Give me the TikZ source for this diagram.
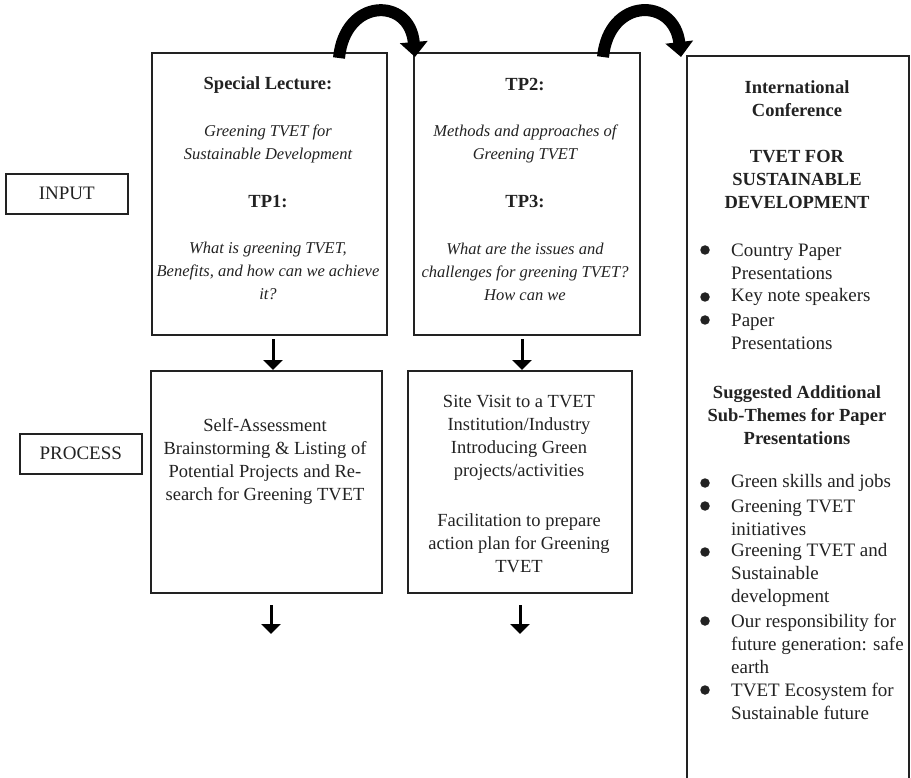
\documentclass[tikz,border=0pt]{standalone}
\usepackage{fontspec}
\setmainfont{Liberation Serif}
\usetikzlibrary{arrows.meta,calc}
\definecolor{ink}{HTML}{222222}
\begin{document}
\begin{tikzpicture}[x=1pt,y=-1pt,
  box/.style={draw=ink,line width=1.6pt,rectangle,inner sep=0pt,anchor=north west},
  rm/.style={font=\fontsize{18.5}{23}\selectfont,text=ink,align=center,inner sep=0pt},
  rmr/.style={font=\fontsize{19}{23}\selectfont,text=ink,align=left,inner sep=0pt,anchor=west},
  itx/.style={font=\fontsize{16.5}{23}\selectfont\itshape,text=ink,align=center,inner sep=0pt},
  bfx/.style={font=\fontsize{18.5}{23}\selectfont\bfseries,text=ink,align=center,inner sep=0pt},
  downarr/.style={draw=black,line width=3pt,-{Triangle[width=19pt,length=10pt]}},
  bendarr/.style={draw=black,line width=12pt,-{Triangle[width=27pt,length=15pt]}},
  bul/.style={circle,fill=ink,inner sep=0pt,minimum size=9.5pt},
]
\useasboundingbox (0,0) rectangle (911,778);
\clip (0,0) rectangle (911,778);

% boxes
\node[box,minimum width=235pt,minimum height=282pt] (tp1) at (151,52) {};
\node[box,minimum width=226pt,minimum height=282pt] (tp2) at (413,52) {};
\node[box,minimum width=231pt,minimum height=222pt] (p1) at (150,370) {};
\node[box,minimum width=224pt,minimum height=222pt] (p2) at (407,370) {};
\node[box,minimum width=222pt,minimum height=760pt] (conf) at (686,55) {};
\node[box,minimum width=122pt,minimum height=40pt,font=\fontsize{19}{23}\selectfont,text=ink] (input) at (5,173) {INPUT};
\node[box,minimum width=122pt,minimum height=40pt,font=\fontsize{19}{23}\selectfont,text=ink] (process) at (19,433) {PROCESS};

% TP1 box text
\node[bfx] (t1a) at (268,85) {Special Lecture:};
\node[itx] (t1b) at (268,143.5) {Greening TVET for\\Sustainable Development};
\node[bfx] (t1c) at (268,202) {TP1:};
\node[itx] (t1d) at (268,271) {What is greening TVET,\\Benefits, and how can we achieve\\it?};

% TP2 box text
\node[bfx] (t2a) at (525,85) {TP2:};
\node[itx] (t2b) at (525,143.5) {Methods and approaches of\\Greening TVET};
\node[bfx] (t2c) at (525,202) {TP3:};
\node[itx] (t2d) at (525,272) {What are the issues and\\challenges for greening TVET?\\How can we};

% process texts
\node[rm] (p1t) at (265,461) {Self-Assessment\\Brainstorming \& Listing of\\Potential Projects and Re-\\search for Greening TVET};
\node[rm] (p2a) at (519,437.5) {Site Visit to a TVET\\Institution/Industry\\Introducing Green\\projects/activities};
\node[rm] (p2b) at (519,543.5) {Facilitation to prepare\\action plan for Greening\\TVET};

% conference box text
\node[bfx] (c1) at (797,98.5) {International\\Conference};
\node[bfx] (c2) at (797,180) {TVET FOR\\SUSTAINABLE\\DEVELOPMENT};
\node[bul] (b1) at (705,250) {};
\node[rmr] (i1) at (731,261.5) {Country Paper\\Presentations};
\node[bul] (b2) at (705,297) {};
\node[rmr] (i2) at (731,297) {Key note speakers};
\node[bul] (b3) at (705,320) {};
\node[rmr] (i3) at (731,331.5) {Paper\\Presentations};
\node[bfx] (c3) at (797,415) {Suggested Additional\\Sub-Themes for Paper\\Presentations};
\node[bul] (b4) at (705,483) {};
\node[rmr] (i4) at (731,483) {Green skills and jobs};
\node[bul] (b5) at (705,506) {};
\node[rmr] (i5) at (731,517.5) {Greening TVET\\initiatives};
\node[bul] (b6) at (705,552) {};
\node[rmr] (i6) at (731,575) {Greening TVET and\\Sustainable\\development};
\node[bul] (b7) at (705,621) {};
\node[rmr] (i7) at (731,644) {Our responsibility for\\future generation: safe\\earth};
\node[bul] (b8) at (705,690) {};
\node[rmr] (i8) at (731,701.5) {TVET Ecosystem for\\Sustainable future};

% straight arrows
\coordinate (a1) at (273,339);
\coordinate (a2) at (522,339);
\draw[downarr] (a1) -- (a1 |- p1.north);
\draw[downarr] (a2) -- (a2 |- p2.north);
\coordinate (d1s) at (271,605);
\coordinate (d1e) at (271,634);
\coordinate (d2s) at (520,605);
\coordinate (d2e) at (520,634);
\draw[downarr] (d1s) -- (d1e);
\draw[downarr] (d2s) -- (d2e);

% curved arrows
\coordinate (c1s) at (339,58);
\coordinate (c1e) at (415,57);
\coordinate (c2s) at (603,57);
\coordinate (c2e) at (681,57);
\draw[bendarr] (c1s) .. controls (345,-3) and (410,-3) .. (c1e);
\draw[bendarr] (c2s) .. controls (609,-3) and (674,-3) .. (c2e);
\end{tikzpicture}
\end{document}
